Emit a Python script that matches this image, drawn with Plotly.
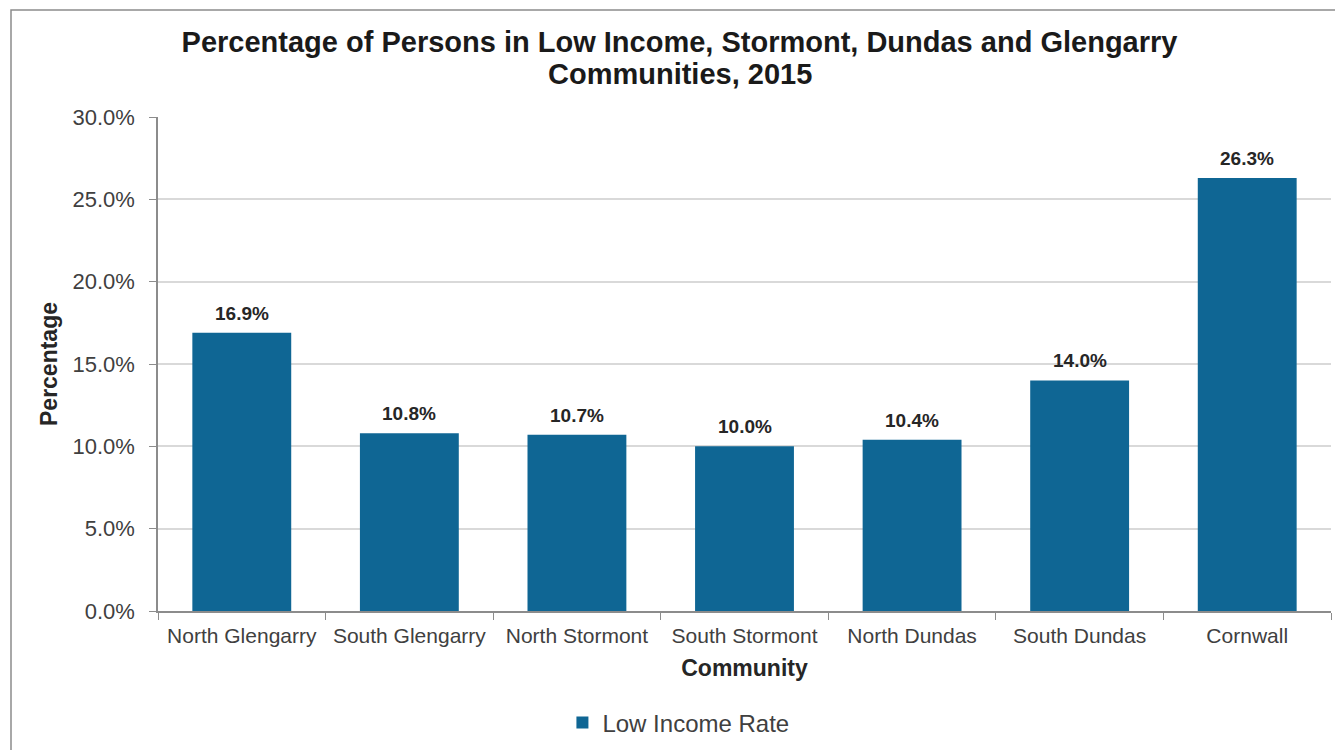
import plotly.graph_objects as go

communities = ["North Glengarry", "South Glengarry", "North Stormont", "South Stormont",
               "North Dundas", "South Dundas", "Cornwall"]
low_income_rate = [16.9, 10.8, 10.7, 10.0, 10.4, 14.0, 26.3]
y_ticks = [0, 5, 10, 15, 20, 25, 30]
title_line1 = "Percentage of Persons in Low Income, Stormont, Dundas and Glengarry"
title_line2 = "Communities, 2015"

BAR = "#0F6694"
FONT = "Liberation Sans, Arial, sans-serif"

W, H = 1343, 750
L, R, T, B = 150, 20, 109, 147
PW, PH = W - L - R, H - T - B

fig = go.Figure()
fig.add_trace(go.Bar(
    x=communities, y=low_income_rate, name="Low Income Rate",
    marker=dict(color=BAR, line=dict(width=0)),
    width=0.59,
))

for c, v in zip(communities, low_income_rate):
    fig.add_annotation(x=c, y=v, text=f"<b>{v:.1f}%</b>", showarrow=False,
                       yanchor="bottom", yshift=7,
                       font=dict(family=FONT, size=19, color="#262626"))

# second title line
fig.add_annotation(xref="paper", yref="paper", x=(672 - L) / PW, y=(H - B - 66) / PH,
                   xanchor="center", yanchor="middle", showarrow=False,
                   text=f"<b>{title_line2}</b>",
                   font=dict(family=FONT, size=29, color="#1a1a1a"))

fig.update_layout(
    width=W, height=H,
    margin=dict(l=L, r=R, t=T, b=B),
    paper_bgcolor="white", plot_bgcolor="white",
    font=dict(family=FONT, color="#404040"),
    title=dict(text=f"<b>{title_line1}</b>",
               x=0.5, xanchor="center", y=1 - 34 / H, yanchor="middle", yref="container",
               font=dict(family=FONT, size=29, color="#1a1a1a")),
    showlegend=True,
    legend=dict(orientation="h", x=0.4992, xanchor="center", xref="container",
                y=1 - 715 / H, yanchor="middle", yref="container",
                font=dict(family=FONT, size=24, color="#404040"),
                itemwidth=30),
    bargap=0.41,
)

fig.update_xaxes(
    type="category", showline=True, linecolor="#8c8c8c", linewidth=1.5,
    ticks="outside", tickson="boundaries", ticklen=7, tickcolor="#8c8c8c",
    tickfont=dict(family=FONT, size=21, color="#404040"),
    ticklabelstandoff=5,
    title=dict(text="<b>Community</b>", font=dict(family=FONT, size=23, color="#262626"), standoff=14),
    showgrid=False,
)
fig.update_yaxes(
    range=[0, 30], tickvals=y_ticks, ticktext=[f"{t:.1f}%" for t in y_ticks],
    showline=True, linecolor="#8c8c8c", linewidth=1.5,
    ticks="outside", ticklen=7, tickcolor="#8c8c8c",
    showgrid=True, gridcolor="#d9d9d9", gridwidth=1.5, zeroline=False,
    tickfont=dict(family=FONT, size=22, color="#404040"),
    ticklabelstandoff=10,
    title=dict(text="<b>Percentage</b>", font=dict(family=FONT, size=23, color="#262626"), standoff=8),
)

fig.add_shape(type="rect", xref="paper", yref="paper",
              x0=(3 - L) / PW, x1=1.05, y0=-0.5, y1=(H - B - 2) / PH,
              line=dict(color="#8c8c8c", width=1.5), fillcolor="rgba(0,0,0,0)", layer="below")

fig.write_html("out.html")
